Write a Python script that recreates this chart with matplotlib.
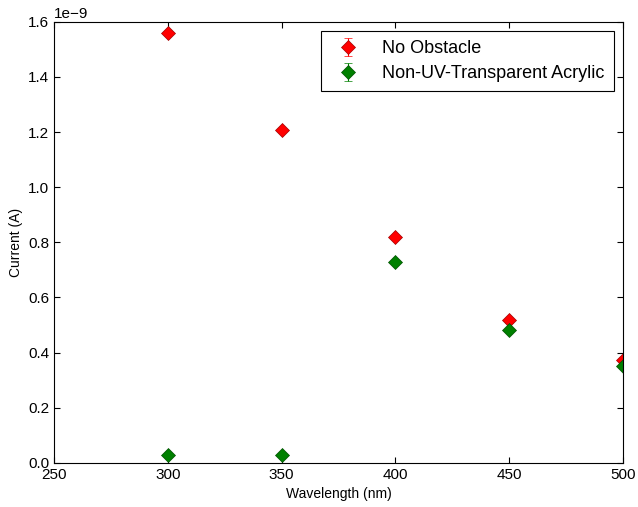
import matplotlib
matplotlib.use('Agg')
import matplotlib.pyplot as plt

plt.rcParams['font.family'] = ['Liberation Sans', 'DejaVu Sans']
plt.rcParams['xtick.direction'] = 'in'
plt.rcParams['ytick.direction'] = 'in'

wavelength = [300, 350, 400, 450, 500]
no_obstacle = [1.56e-9, 1.207e-9, 0.82e-9, 0.517e-9, 0.373e-9]
no_obstacle_err = [0.008e-9, 0.008e-9, 0.008e-9, 0.008e-9, 0.008e-9]
acrylic = [0.029e-9, 0.029e-9, 0.728e-9, 0.482e-9, 0.352e-9]
acrylic_err = [0.005e-9, 0.005e-9, 0.008e-9, 0.008e-9, 0.008e-9]

fig = plt.figure(figsize=(6.38, 5.07), dpi=100)
ax = fig.add_axes([0.085, 0.087, 0.891, 0.870])

ax.errorbar(wavelength, no_obstacle, yerr=no_obstacle_err, fmt='D', color='red',
            mec='#a00000', mew=0.5, ms=7, ecolor='red', elinewidth=0.8, capsize=3,
            label='No Obstacle')
ax.errorbar(wavelength, acrylic, yerr=acrylic_err, fmt='D', color='green',
            mec='#005000', mew=0.5, ms=7, ecolor='green', elinewidth=0.8, capsize=3,
            label='Non-UV-Transparent Acrylic')

ax.set_xlim(250, 500)
ax.set_ylim(0, 1.6e-9)
ax.set_xticks([250, 300, 350, 400, 450, 500])
ax.set_xlabel('Wavelength (nm)', fontsize=10)
ax.set_ylabel('Current (A)', fontsize=10)
ax.tick_params(labelsize=11, top=True, right=True, length=4)
ax.yaxis.get_offset_text().set_fontsize(11)

leg = ax.legend(loc='upper right', fontsize=13, numpoints=1, fancybox=False,
                framealpha=1, edgecolor='black', handletextpad=0.9,
                handlelength=2.0, borderpad=0.5, labelspacing=0.45,
                bbox_to_anchor=(1.0, 1.0))
leg.get_frame().set_linewidth(0.8)

fig.savefig('out.png', dpi=100)
